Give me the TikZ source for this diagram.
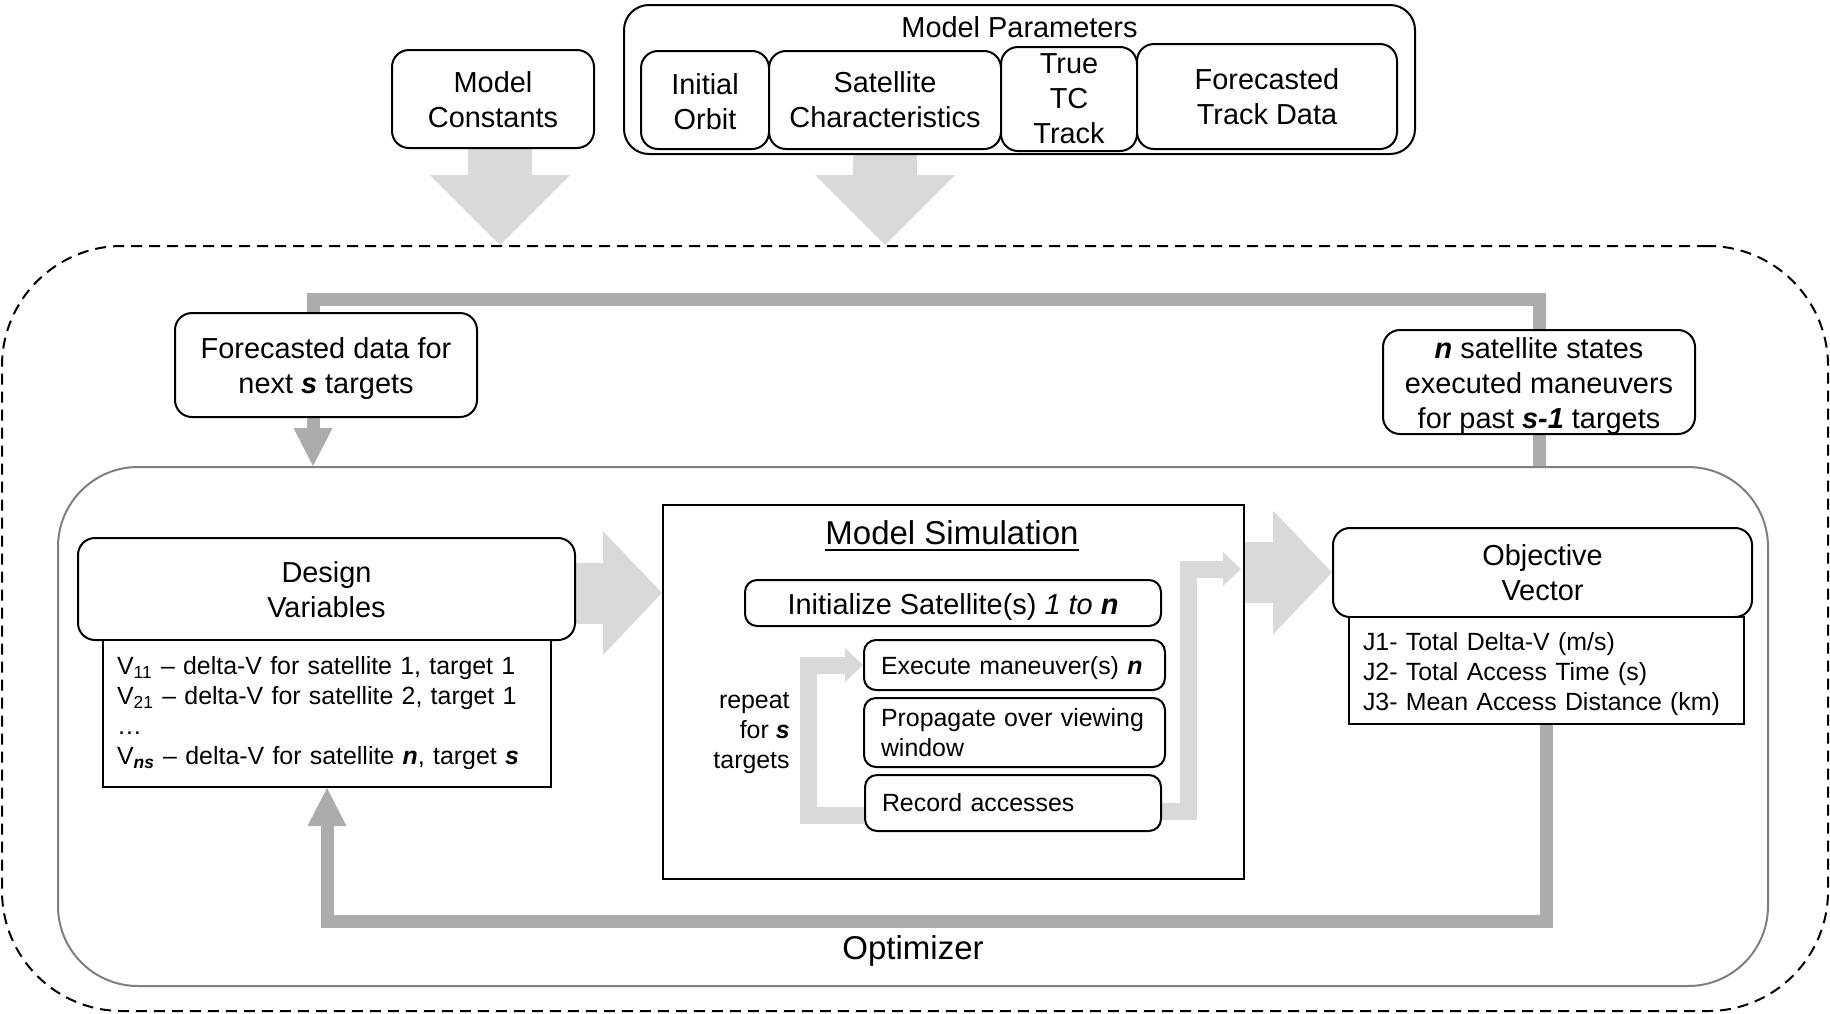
\documentclass[tikz,border=0pt]{standalone}
\usepackage{fontspec}
\setmainfont{Liberation Sans}
\usetikzlibrary{arrows.meta,backgrounds}
\definecolor{lightarrow}{HTML}{D9D9D9}
\definecolor{darkarrow}{HTML}{AEABAB}
\definecolor{optgray}{HTML}{7F7F7F}
\newcommand{\fmain}{\fontsize{14.45pt}{17.5pt}\selectfont}
\newcommand{\fsmall}{\fontsize{12.45pt}{15pt}\selectfont}
\newcommand{\fbig}{\fontsize{16.5pt}{20pt}\selectfont}
\newcommand{\bi}[1]{\textbf{\textit{#1}}}
\newcommand{\dn}[1]{\rule{0pt}{#1}}
\begin{document}
\begin{tikzpicture}[x=0.5pt,y=-0.5pt,
  box/.style={draw=black, line width=1pt, fill=white, inner sep=0pt, align=center, font=\fmain},
  rbox/.style={box, rounded corners=8.5pt},
  sbox/.style={draw=black, line width=1pt, fill=white, rounded corners=6pt, font=\fsmall, align=left, inner xsep=8.5pt, inner ysep=0pt, text width=133.5pt},
  listbox/.style={draw=black, line width=1pt, fill=white, font=\fsmall, align=left, inner xsep=7pt, inner ysep=0pt},
  bigarr/.style={draw=lightarrow, line width=32pt, -{Triangle[width=70pt,length=35pt,line width=0pt]}},
  sidearr/.style={draw=lightarrow, line width=30.5pt, -{Triangle[width=62pt,length=29.5pt,line width=0pt]}},
  looparr/.style={draw=lightarrow, line width=8.5pt, line join=miter, -{Triangle[width=17pt,length=9pt,line width=0pt]}},
  darkline/.style={draw=darkarrow, line width=6.5pt, line join=miter},
  darkarr/.style={darkline, -{Triangle[width=19.5pt,length=19pt,line width=0pt]}},
]
\useasboundingbox (0,0) rectangle (1830,1013);

% containers
\node[draw=black, line width=1pt, dash pattern=on 5.5pt off 3.5pt, rounded corners=60pt,
      minimum width=913pt, minimum height=382.5pt, inner sep=0pt] (outer) at (915,628.5) {};
\node[draw=optgray, line width=1pt, rounded corners=40pt,
      minimum width=855pt, minimum height=259.5pt, inner sep=0pt] (inner) at (913,726.5) {};
\node[font=\fbig, inner sep=0pt] (optlabel) at (913,950.5) {Optimizer};
\node[draw=black, line width=1pt, minimum width=290.5pt, minimum height=187pt, inner sep=0pt] (ms) at (953.5,692) {};
\node[font=\fbig, inner sep=0pt] (mstitle) at (952,533) {Model Simulation};
\draw[line width=1pt] ([yshift=-2.5pt]mstitle.base west) -- ([yshift=-2.5pt]mstitle.base east);

% top
\node[rbox, minimum width=101pt, minimum height=49pt] (mconst) at (493,99) {\dn{11.5pt}Model\\Constants};
\node[draw=black, line width=1pt, rounded corners=12.5pt, minimum width=395.5pt, minimum height=74.5pt, inner sep=0pt] (mparam) at (1019.5,79.5) {};
\node[font=\fmain, inner sep=0pt] (mptitle) at (1019.5,27) {Model Parameters};
\node[rbox, minimum width=64pt, minimum height=49pt] (initorb) at (705,100) {\dn{12.5pt}Initial\\Orbit};
\node[rbox, minimum width=116pt, minimum height=49pt] (satchar) at (885,100) {Satellite\\Characteristics};
\node[rbox, minimum width=68pt, minimum height=52pt] (truetc) at (1069,99) {True\\TC\\Track};
\node[rbox, minimum width=130pt, minimum height=52.5pt] (fcsttrack) at (1267,96.5) {Forecasted\\Track Data};

% feedback boxes
\node[rbox, minimum width=151pt, minimum height=52pt] (fcst) at (326,365) {\dn{14pt}Forecasted data for\\next \bi{s} targets};
\node[rbox, minimum width=156pt, minimum height=52pt] (nsat) at (1539,382) {\dn{14pt}\bi{n} satellite states\\executed maneuvers\\for past \bi{s-1} targets};

% design variables
\node[rbox, minimum width=248.5pt, minimum height=51pt] (dv) at (326.5,589) {\dn{11.5pt}Design\\Variables};
\node[listbox, text width=210pt, minimum height=73.5pt] (dvlist) at (327,713.5)
  {V\textsubscript{11} -- delta-V for satellite 1, target 1\\
   V\textsubscript{21} -- delta-V for satellite 2, target 1\\
   …\\
   V\textsubscript{\bi{ns}} -- delta-V for satellite \bi{n}, target \bi{s}};

% objective vector
\node[rbox, minimum width=209.5pt, minimum height=44.5pt] (ov) at (1542.5,572.5) {Objective\\Vector};
\node[listbox, text width=183.5pt, minimum height=53.5pt] (ovlist) at (1546.5,670.5)
  {\dn{12.1pt}J1- Total Delta-V (m/s)\\
   J2- Total Access Time (s)\\
   J3- Mean Access Distance (km)};

% model simulation contents
\node[draw=black, line width=1pt, fill=white, rounded corners=6pt, font=\fmain, inner sep=0pt,
      minimum width=208pt, minimum height=23pt] (init) at (953,603) {\dn{14pt}Initialize Satellite(s) \textit{1 to} \bi{n}};
\node[sbox, minimum height=25pt] (exe) at (1014.5,665) {\dn{12.1pt}Execute maneuver(s) \bi{n}};
\node[sbox, minimum height=34.5pt] (prop) at (1014.5,732.5) {Propagate over viewing\\window};
\node[sbox, minimum height=28pt, text width=131pt] (rec) at (1013,803) {Record accesses};
\node[font=\fsmall, align=right, inner sep=0pt, anchor=east] (rep) at (790,733.5) {repeat\\for \bi{s}\\targets};

% helper coordinates
\coordinate (ax1) at (500,0);
\coordinate (ya) at (0,593);
\coordinate (topline) at (313,299);
\coordinate (boty) at (0,921);
\coordinate (lb) at (808,815);
\coordinate (rb) at (1188,811);
\coordinate (rt) at (1241,569);

\begin{scope}[on background layer]
\draw[bigarr] (mconst.south -| ax1) -- (outer.north -| ax1);
\draw[bigarr] (mparam.south -| satchar.south) -- (outer.north -| satchar.south);
\draw[sidearr] (dv.east |- ya) -- (ms.west |- ya);
\draw[sidearr] (ms.east |- ov.west) -- (ov.west);
\draw[darkline] (inner.north -| nsat.south) |- (topline) -- (fcst.north -| topline);
\draw[darkarr] (fcst.south -| topline) -- (inner.north -| topline);
\draw[darkarr] (ovlist.south) -- (ovlist.south |- boty) -| (dvlist.south);
\draw[looparr] (rec.west |- lb) -- (lb) |- (exe.west);
\draw[looparr] (rec.east |- rb) -- (rb) |- (rt);
\end{scope}
\end{tikzpicture}
\end{document}
